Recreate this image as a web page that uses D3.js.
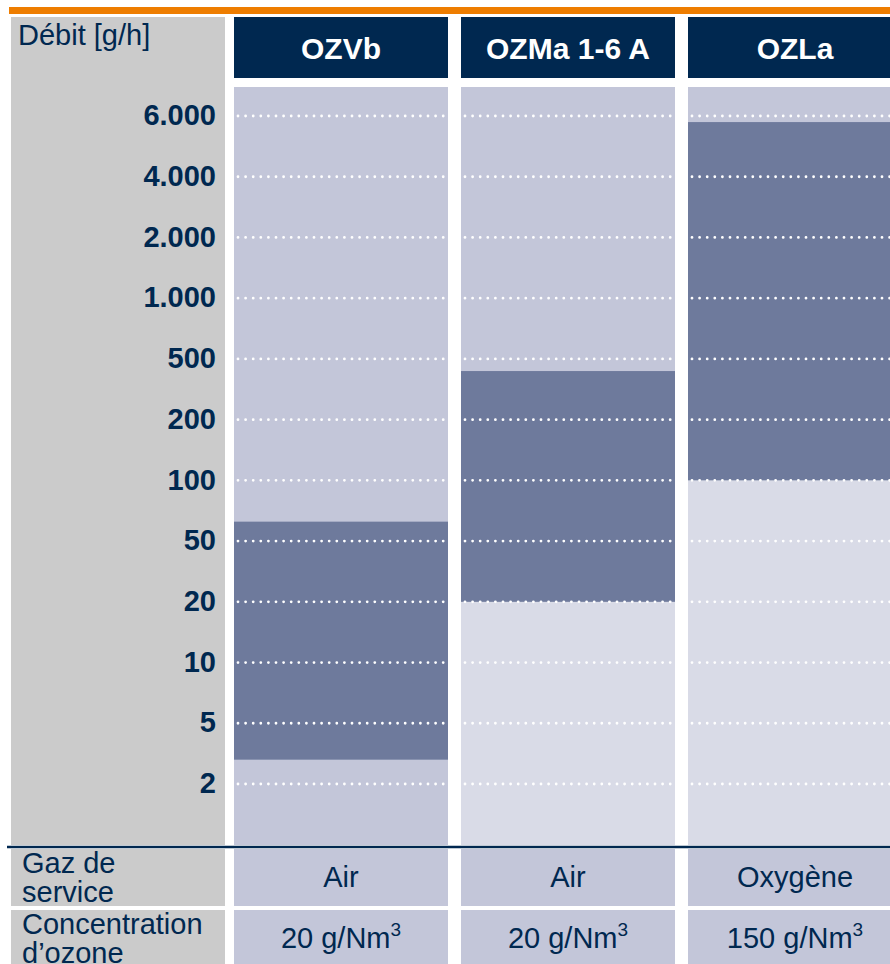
<!DOCTYPE html>
<html>
<head>
<meta charset="utf-8">
<script src="https://cdn.jsdelivr.net/npm/d3@7"></script>
<style>
  html, body { margin: 0; padding: 0; background: #fff; }
  svg { display: block; font-family: "Liberation Sans", Arial, sans-serif; }
</style>
</head>
<body>
<svg width="890" height="964"></svg>
<script>
// Chart data
const products = ["OZVb", "OZMa 1-6 A", "OZLa"];
const flowTicks = [2, 5, 10, 20, 50, 100, 200, 500, 1000, 2000, 4000, 6000];
const flowTickLabels = ["2", "5", "10", "20", "50", "100", "200", "500", "1.000", "2.000", "4.000", "6.000"];
const flowMin = [3.2, 20, 100];
const flowMax = [66, 440, 5800];
const gasTypes = ["Air", "Air", "Oxygène"];
const ozoneConc = [20, 20, 150];
const rowLabels = [["Gaz de", "service"], ["Concentration", "d’ozone"]];

const navy = "#002850";
const grey = "#cbcbcb";
const medium = "#c3c6d9";
const dark = "#6e7a9c";
const light = "#d9dbe7";

const svg = d3.select("svg");
const width = Number(svg.attr("width"));

const bodyTop = 87, bodyBottom = 845;

// x: one band per product
const x = d3.scaleBand()
    .domain(products)
    .range([234, 902])
    .paddingInner(13 / 227);

// y: ticks are evenly spaced, values in between are interpolated piecewise
const yPos = d3.scalePoint().domain(flowTickLabels).range([784, 116]);
const y = d3.scaleLinear()
    .domain(flowTicks)
    .range(flowTickLabels.map(d => yPos(d)));

// orange top rule
svg.append("rect")
    .attr("x", 9).attr("y", 7)
    .attr("width", width - 9).attr("height", 7)
    .attr("fill", "#ee7d00");

// grey label column
svg.append("rect")
    .attr("x", 11).attr("y", 17)
    .attr("width", 214).attr("height", bodyBottom - 17)
    .attr("fill", grey);

svg.append("text")
    .attr("x", 18).attr("y", 45)
    .attr("font-size", 29)
    .attr("fill", navy)
    .text("Débit [g/h]");

// header boxes
const headers = svg.append("g");
headers.selectAll("rect")
    .data(products)
    .join("rect")
    .attr("x", d => x(d)).attr("y", 17)
    .attr("width", x.bandwidth()).attr("height", 61)
    .attr("fill", navy);
headers.selectAll("text")
    .data(products)
    .join("text")
    .attr("x", d => x(d) + x.bandwidth() / 2)
    .attr("y", 59)
    .attr("text-anchor", "middle")
    .attr("font-size", 30)
    .attr("font-weight", "bold")
    .attr("fill", "#fff")
    .text(d => d);

// column bodies
const cols = svg.append("g").selectAll("g")
    .data(products)
    .join("g");

cols.append("rect")
    .attr("x", d => x(d)).attr("y", bodyTop)
    .attr("width", x.bandwidth()).attr("height", (d, i) => y(flowMin[i]) - bodyTop)
    .attr("fill", medium);

cols.append("rect")
    .attr("x", d => x(d)).attr("y", (d, i) => y(flowMin[i]))
    .attr("width", x.bandwidth()).attr("height", (d, i) => bodyBottom - y(flowMin[i]))
    .attr("fill", (d, i) => i === 0 ? medium : light);

cols.append("rect")
    .attr("x", d => x(d)).attr("y", (d, i) => y(flowMax[i]))
    .attr("width", x.bandwidth()).attr("height", (d, i) => y(flowMin[i]) - y(flowMax[i]))
    .attr("fill", dark);

// dotted grid lines inside each column
cols.each(function (p) {
    d3.select(this).selectAll("line")
        .data(flowTicks)
        .join("line")
        .attr("x1", x(p) + 4)
        .attr("x2", x(p) + x.bandwidth() - 2)
        .attr("y1", d => y(d))
        .attr("y2", d => y(d))
        .attr("stroke", "#fff")
        .attr("stroke-width", 2.8)
        .attr("stroke-linecap", "round")
        .attr("stroke-dasharray", "0 7.6");
});

// y axis labels
svg.append("g")
    .attr("transform", "translate(216,0)")
    .call(d3.axisLeft(y).tickValues(flowTicks).tickFormat((d, i) => flowTickLabels[i]).tickSize(0).tickPadding(0))
    .call(g => g.select(".domain").remove())
    .call(g => g.selectAll("text")
        .attr("font-family", "Liberation Sans, Arial, sans-serif")
        .attr("font-size", 29)
        .attr("font-weight", "bold")
        .attr("fill", navy)
        .attr("dy", "0.3em"));

// navy divider
svg.append("line")
    .attr("x1", 7).attr("x2", width)
    .attr("y1", 847).attr("y2", 847)
    .attr("stroke", navy)
    .attr("stroke-width", 2.5);

// bottom table rows
const rows = [
    { top: 849, height: 57, values: gasTypes.map(d => ({ text: d })) },
    { top: 910, height: 60, values: ozoneConc.map(d => ({ text: d + " g/Nm", sup: "3" })) }
];

rows.forEach((row, r) => {
    svg.append("rect")
        .attr("x", 11).attr("y", row.top)
        .attr("width", 214).attr("height", row.height)
        .attr("fill", grey);

    const lbl = svg.append("text")
        .attr("font-size", 29)
        .attr("fill", navy);
    lbl.selectAll("tspan")
        .data(rowLabels[r])
        .join("tspan")
        .attr("x", 22)
        .attr("y", (d, i) => row.top + 24 + i * 29)
        .text(d => d);

    svg.append("g").selectAll("rect")
        .data(products)
        .join("rect")
        .attr("x", d => x(d)).attr("y", row.top)
        .attr("width", x.bandwidth()).attr("height", row.height)
        .attr("fill", medium);

    const t = svg.append("g").selectAll("text")
        .data(row.values)
        .join("text")
        .attr("x", (d, i) => x(products[i]) + x.bandwidth() / 2)
        .attr("y", row.top + 38)
        .attr("text-anchor", "middle")
        .attr("font-size", 29)
        .attr("fill", navy);
    t.append("tspan").text(d => d.text);
    t.filter(d => d.sup).append("tspan")
        .attr("font-size", 19)
        .attr("dy", -12)
        .text(d => d.sup);
});
</script>
</body>
</html>
